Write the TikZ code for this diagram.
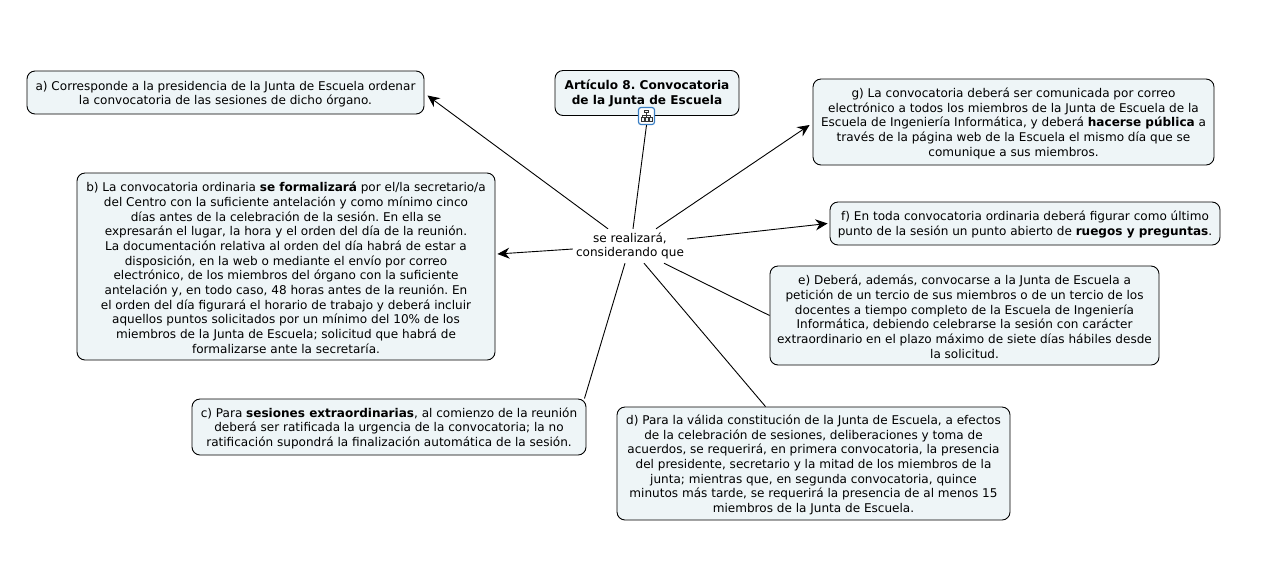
\documentclass[tikz,border=0pt]{standalone}
\usepackage{fontspec}
\setmainfont{DejaVu Sans}
\usetikzlibrary{arrows.meta,calc}
\definecolor{boxfill}{HTML}{EEF5F7}
\definecolor{iconblue}{HTML}{3A7FC4}
\frenchspacing
\newcommand{\liftline}{\rule{0pt}{12.2pt}}
\tikzset{
  concept/.style={draw=black,line width=0.9pt,fill=boxfill,rounded corners=8pt,align=center,inner sep=0pt,
    font=\fontsize{12.05}{14.65}\selectfont},
  title/.style={draw=black,line width=0.9pt,fill=boxfill,rounded corners=8pt,align=center,inner sep=0pt,
    font=\fontsize{12.1}{14.8}\selectfont},
  linker/.style={align=center,inner sep=0pt,minimum width=114pt,minimum height=34pt,
    font=\fontsize{12.05}{14.8}\selectfont},
  conn/.style={line width=0.9pt,draw=black},
  arrowconn/.style={conn,-{Stealth[length=12pt,width=11pt]}},
}
\begin{document}
\begin{tikzpicture}[x=1pt,y=-1pt]
\useasboundingbox (0,0) rectangle (1265,566);
\fill[white] (0,0) rectangle (1265,566);
\node[title,minimum width=184pt,minimum height=45pt] (root) at (647,93)
 {\textbf{Artículo 8. Convocatoria}\\\textbf{de la Junta de Escuela}};
\node[concept,minimum width=397pt,minimum height=43pt] (a) at (225.5,92.5)
 {\liftline a) Corresponde a la presidencia de la Junta de Escuela ordenar\\la convocatoria de las sesiones de dicho órgano.};
\node[concept,minimum width=418pt,minimum height=187pt] (b) at (286,266.5)
 {\liftline b) La convocatoria ordinaria \textbf{se formalizará} por el/la secretario/a\\
del Centro con la suficiente antelación y como mínimo cinco\\
días antes de la celebración de la sesión. En ella se\\
expresarán el lugar, la hora y el orden del día de la reunión.\\
La documentación relativa al orden del día habrá de estar a\\
disposición, en la web o mediante el envío por correo\\
electrónico, de los miembros del órgano con la suficiente\\
antelación y, en todo caso, 48 horas antes de la reunión.  En\\
el orden del día figurará el horario de trabajo y deberá incluir\\
aquellos puntos solicitados por un mínimo del 10\% de los\\
miembros de la Junta de Escuela; solicitud que habrá de\\
formalizarse ante la secretaría.};
\node[concept,minimum width=394pt,minimum height=56pt] (c) at (389,427)
 {\liftline c) Para \textbf{sesiones extraordinarias}, al comienzo de la reunión\\
deberá ser ratificada la urgencia de la convocatoria; la no\\
ratificación supondrá la finalización automática de la sesión.};
\node[concept,minimum width=393pt,minimum height=113pt] (d) at (813.5,463.5)
 {\liftline d) Para la válida constitución de la Junta de Escuela, a efectos\\
de la celebración de sesiones, deliberaciones y toma de\\
acuerdos, se requerirá, en primera convocatoria, la presencia\\
del presidente, secretario y la mitad de los miembros de la\\
junta; mientras que, en segunda convocatoria, quince\\
minutos más tarde, se requerirá la presencia de al menos 15\\
miembros de la Junta de Escuela.};
\node[concept,minimum width=389pt,minimum height=99pt] (e) at (964.5,315.5)
 {\liftline e) Deberá, además, convocarse a la Junta de Escuela a\\
petición de un tercio de sus miembros o de un tercio de los\\
docentes a tiempo completo de la Escuela de Ingeniería\\
Informática, debiendo celebrarse la sesión con carácter\\
extraordinario en el plazo máximo de siete días hábiles desde\\
la solicitud.};
\node[concept,minimum width=390pt,minimum height=43pt] (f) at (1025,223.5)
 {\liftline f) En toda convocatoria ordinaria deberá figurar como último\\
punto de la sesión un punto abierto de \textbf{ruegos y preguntas}.};
\node[concept,minimum width=401pt,minimum height=86pt] (g) at (1013.5,122)
 {\liftline g) La convocatoria deberá ser comunicada por correo\\
electrónico a todos los miembros de la Junta de Escuela de la\\
Escuela de Ingeniería Informática, y deberá \textbf{hacerse pública} a\\
través de la página web de la Escuela el mismo día que se\\
comunique a sus miembros.};
\node[linker] (lbl) at (630,246) {se realizará,\\considerando que};
% icon
\node[draw=iconblue,line width=1.2pt,fill=white,rounded corners=2.5pt,minimum width=16pt,minimum height=17pt,inner sep=0pt] (icon) at (646.5,116) {};
\begin{scope}[shift={(icon.center)},line width=0.8pt]
  \draw[black!80] (0,-3.5)--(0,-1) (-4,1.5)--(-4,-1)--(4,-1)--(4,1.5) (0,-1)--(0,1.5);
  \draw[black!80,fill=white] (-1.8,-6) rectangle (1.8,-3.2);
  \foreach \xx in {-4,0,4}{\draw[black!80,fill=boxfill] (\xx-1.5,1.8) rectangle (\xx+1.5,5);}
\end{scope}
% connectors
\draw[conn] (icon.south) -- ($(lbl.north)+(3,0)$);
\draw[arrowconn] ($(lbl.north)+(-22,0)$) -- ($(a.east)+(3,3)$);
\draw[arrowconn] ($(lbl.north)+(26,0)$) -- ($(g.west)+(-3,3)$);
\draw[arrowconn] ($(lbl.east)+(0,-7)$) -- ($(f.west)+(-2,0)$);
\draw[arrowconn] (lbl.west |- 0,249) -- ($(b.east)+(2,-12.5)$);
\draw[conn] ($(lbl.south)+(-5,0)$) -- ($(c.north east)+(-2,0)$);
\draw[conn] ($(lbl.south)+(14,0)$) -- ($(d.north)+(-48,0)$);
\draw[conn] ($(lbl.south)+(34,0)$) -- (e.west);
\end{tikzpicture}
\end{document}
